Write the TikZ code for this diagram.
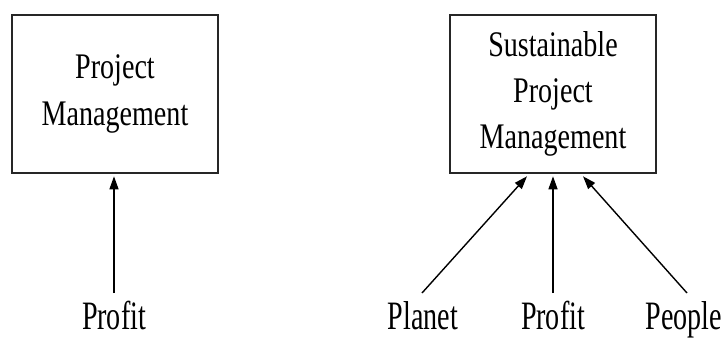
\documentclass[tikz,border=0pt]{standalone}
\usepackage{fontspec}
\setmainfont[FakeStretch=0.78]{Liberation Serif}
\usetikzlibrary{arrows.meta,calc}
\begin{document}
\begin{tikzpicture}[x=1pt,y=-1pt,
  box/.style={draw=black!85,line width=2.6pt,minimum width=206pt,minimum height=158pt,inner sep=0pt,
    align=center,font=\fontsize{36}{46}\selectfont},
  lbl/.style={font=\fontsize{36}{46}\selectfont,inner sep=0pt,anchor=base},
  arr/.style={line width=1.4pt,-{Triangle[length=13pt,width=9pt]}}]
\useasboundingbox (0,0) rectangle (725,338);
\node[box] (pm) at (115,94) {\raisebox{-5pt}{\parbox{200pt}{\centering Project\\[1pt]Management}}};
\node[box] (spm) at (553,94) {\raisebox{-5pt}{\parbox{200pt}{\centering Sustainable\\Project\\Management}}};
\node[lbl] (lprofit) at (114,329) {\scalebox{1}[1.12]{Profit}};
\node[lbl] (planet) at (423,329) {\scalebox{1}[1.12]{Planet}};
\node[lbl] (rprofit) at (553,329) {\scalebox{1}[1.12]{Profit}};
\node[lbl] (people) at (684,329) {\scalebox{1}[1.12]{People}};
\coordinate (a1) at ($(lprofit.base)+(0,-36)$);
\coordinate (a2) at ($(planet.base)+(-1,-36)$);
\coordinate (a3) at ($(rprofit.base)+(0,-36)$);
\coordinate (a4) at ($(people.base)+(3,-36)$);
\draw[arr] (a1) -- ($(pm.south)+(-1,2)$);
\draw[arr] (a2) -- ($(spm.south)+(-26,2)$);
\draw[arr] (a3) -- ($(spm.south)+(0,2)$);
\draw[arr] (a4) -- ($(spm.south)+(30,2)$);
\end{tikzpicture}
\end{document}
